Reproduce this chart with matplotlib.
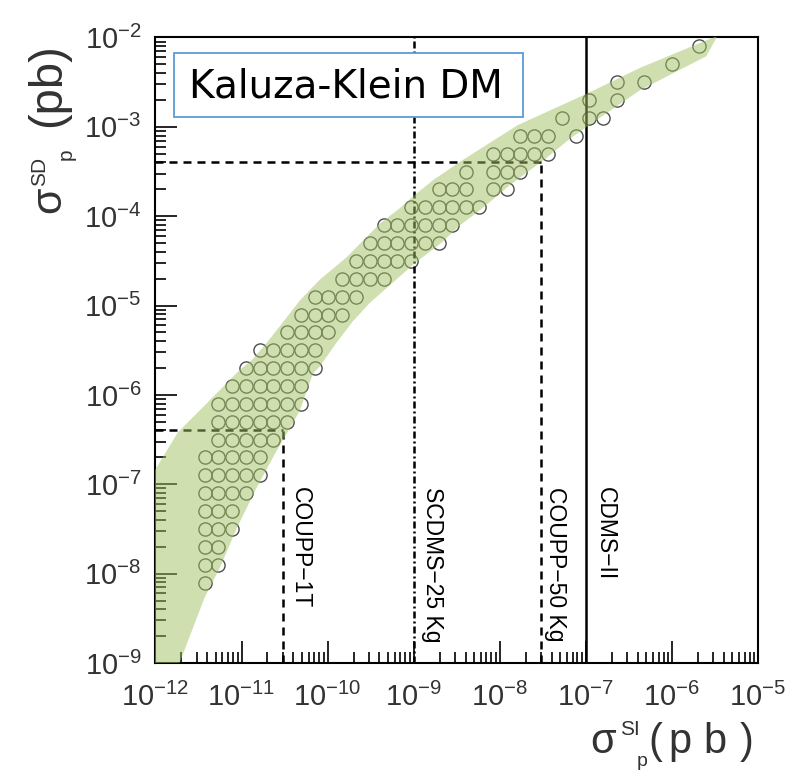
import numpy as np
import matplotlib.pyplot as plt
import matplotlib.transforms as mtransforms
from matplotlib.patches import Rectangle
from matplotlib.ticker import LogLocator, FuncFormatter, NullFormatter

plt.rcParams['font.family'] = ['Liberation Sans', 'DejaVu Sans']
plt.rcParams['mathtext.fontset'] = 'custom'
plt.rcParams['mathtext.rm'] = 'Liberation Sans'
plt.rcParams['mathtext.default'] = 'regular'

# KK scan points: each row is one log10(sigma_SD) value with its log10(sigma_SI) values
row_logsd = [-2.1, -2.3, -2.5, -2.7, -2.9, -3.1, -3.3, -3.5, -3.7, -3.9,
             -4.1, -4.3, -4.5, -4.7, -4.9, -5.1, -5.3, -5.5, -5.7, -5.9,
             -6.1, -6.3, -6.5, -6.7, -6.9, -7.1, -7.3, -7.5, -7.7, -7.9, -8.1]
row_logsi = [
    [-5.68],
    [-6.00],
    [-6.64, -6.32],
    [-6.96, -6.64],
    [-7.28, -6.96, -6.80],
    [-7.76, -7.60, -7.44, -7.12],
    [-8.08, -7.92, -7.76, -7.60, -7.44],
    [-8.39, -8.08, -7.92, -7.76],
    [-8.71, -8.55, -8.39, -8.08, -7.92],
    [-9.03, -8.87, -8.71, -8.55, -8.39, -8.24],
    [-9.35, -9.19, -9.03, -8.87, -8.71, -8.55],
    [-9.51, -9.35, -9.19, -9.03, -8.87, -8.71],
    [-9.67, -9.51, -9.35, -9.19, -9.03],
    [-9.83, -9.67, -9.51, -9.35],
    [-10.15, -9.99, -9.83, -9.67],
    [-10.31, -10.15, -9.99, -9.83],
    [-10.47, -10.31, -10.15, -9.99],
    [-10.79, -10.63, -10.47, -10.31, -10.15],
    [-10.95, -10.79, -10.63, -10.47, -10.31, -10.15],
    [-11.11, -10.95, -10.79, -10.63, -10.47, -10.31],
    [-11.27, -11.11, -10.95, -10.79, -10.63, -10.47, -10.31],
    [-11.27, -11.11, -10.95, -10.79, -10.63, -10.47],
    [-11.27, -11.11, -10.95, -10.79, -10.63],
    [-11.43, -11.27, -11.11, -10.95, -10.79],
    [-11.43, -11.27, -11.11, -10.95, -10.79],
    [-11.43, -11.27, -11.11, -10.95],
    [-11.43, -11.27, -11.11],
    [-11.43, -11.27, -11.11],
    [-11.43, -11.27],
    [-11.43, -11.27],
    [-11.43],
]

# allowed region, upper edge left->right then lower edge right->left (log10 values)
band_upper_si = [-12.1, -11.74, -11.02, -10.88, -10.71, -10.53, -10.32, -10.09,
                 -9.78, -9.39, -9.16, -9.01, -8.78, -8.46, -8.15, -7.79, -6.99,
                 -6.37, -5.47]
band_upper_sd = [-6.99, -6.42, -5.72, -5.61, -5.42, -5.20, -4.94, -4.71,
                 -4.46, -4.08, -3.91, -3.78, -3.60, -3.39, -3.20, -2.98, -2.63,
                 -2.34, -1.98]
band_lower_si = [-5.60, -6.37, -6.99, -7.18, -7.46, -7.88, -8.20, -8.46, -8.68,
                 -8.98, -9.51, -9.71, -9.90, -10.09, -10.17, -10.32, -10.40,
                 -10.59, -10.82, -11.05, -11.25, -11.43, -11.72, -11.76, -12.1]
band_lower_sd = [-2.21, -2.59, -3.00, -3.13, -3.35, -3.65, -3.91, -4.10, -4.30,
                 -4.52, -4.97, -5.18, -5.42, -5.68, -5.76, -6.17, -6.31,
                 -6.62, -7.03, -7.48, -7.93, -8.27, -9.00, -9.10, -9.10]

# experimental reach (pb)
coupp_1t = (3e-11, 4e-7)
coupp_50kg = (3e-8, 4e-4)
scdms_25kg = 1e-9
cdms_ii = 1e-7

fig = plt.figure(figsize=(8.08, 7.73), dpi=100)
ax = fig.add_axes([0.1924, 0.1423, 0.7457, 0.8092])
ax.set_xscale('log')
ax.set_yscale('log')
ax.set_xlim(1e-12, 1e-5)
ax.set_ylim(1e-9, 1e-2)

# scan points
px, py = [], []
for sd, si_list in zip(row_logsd, row_logsi):
    for si in si_list:
        px.append(10 ** si)
        py.append(10 ** sd)
ax.plot(px, py, 'o', mfc='none', mec='#4d4d4d', ms=9.5, mew=1.0, zorder=3)

# limit lines
dash = dict(color='k', lw=1.8, dashes=(3.2, 2.4), zorder=3)
ax.plot([coupp_1t[0], coupp_1t[0]], [1e-9, coupp_1t[1]], **dash)
ax.plot([1e-12, coupp_1t[0]], [coupp_1t[1], coupp_1t[1]], **dash)
ax.plot([coupp_50kg[0], coupp_50kg[0]], [1e-9, coupp_50kg[1]], **dash)
ax.plot([1e-12, coupp_50kg[0]], [coupp_50kg[1], coupp_50kg[1]], **dash)
ax.axvline(scdms_25kg, color='k', lw=1.8, dashes=(2.8, 1.2, 0.8, 1.2), zorder=3)
ax.axvline(cdms_ii, color='k', lw=1.8, zorder=3)

# allowed band, drawn over the points and lines
bx = 10 ** np.array(band_upper_si + band_lower_si)
by = 10 ** np.array(band_upper_sd + band_lower_sd)
ax.fill(bx, by, color=(161 / 255, 193 / 255, 97 / 255), alpha=0.5, lw=0, zorder=5)

# experiment names
trans = mtransforms.blended_transform_factory(ax.transData, ax.transAxes)
names = ['COUPP\u22121T', 'SCDMS\u221225 Kg', 'COUPP\u221250 Kg', 'CDMS\u2212II']
name_x = [coupp_1t[0], scdms_25kg, coupp_50kg[0], cdms_ii]
name_shift = [1.6, 1.66, 1.47, 1.67]
for name, xv, s in zip(names, name_x, name_shift):
    ax.text(xv * s, 0.281, name, transform=trans, rotation=-90, ha='center',
            va='top', fontsize=16.5, zorder=10)

# title box
ax.add_patch(Rectangle((0.0307, 0.8734), 0.5793, 0.1023, transform=ax.transAxes,
                       fc='white', ec='#5b9bd5', lw=1.3, zorder=8))
ax.text(0.316, 0.921, 'Kaluza-Klein DM', transform=ax.transAxes, ha='center',
        va='center', fontsize=28, family=['DejaVu Sans'], zorder=9)

# axes styling
for sp in ax.spines.values():
    sp.set_linewidth(1.5)
ax.xaxis.set_major_locator(LogLocator(base=10, numticks=20))
ax.yaxis.set_major_locator(LogLocator(base=10, numticks=20))
ax.xaxis.set_minor_locator(LogLocator(base=10, subs=np.arange(2, 10), numticks=100))
ax.yaxis.set_minor_locator(LogLocator(base=10, subs=np.arange(2, 10), numticks=100))
fmt = FuncFormatter(lambda v, pos: r'$\mathregular{10^{%d}}$' % round(np.log10(v)))
ax.xaxis.set_major_formatter(fmt)
ax.yaxis.set_major_formatter(fmt)
ax.xaxis.set_minor_formatter(NullFormatter())
ax.yaxis.set_minor_formatter(NullFormatter())
ax.tick_params(which='both', direction='in', top=False, right=False, width=1.2,
               labelsize=21, labelcolor='#333333')
ax.tick_params(which='major', length=16)
ax.tick_params(which='minor', length=8)
ax.tick_params(axis='x', which='major', pad=14)
ax.tick_params(axis='y', which='major', pad=10)


def fig_xy(x, y):
    return x / 808, 1 - y / 773


# x axis title, placed piece by piece
for txt, x, y, fs in [('\u03c3', 590, 753, 30), ('SI', 620, 735, 15), ('p', 637, 766, 14),
                      ('(', 648, 753, 30), ('p', 668, 753, 30), ('b', 703, 753, 30),
                      (')', 740, 753, 30)]:
    fig.text(*fig_xy(x, y), txt, ha='left', va='baseline', fontsize=fs, color='#333333')

# y axis title
for txt, x, y, fs in [('\u03c3', 60, 213, 31), ('SD', 45, 186, 15), ('p', 72, 160, 15),
                      ('(pb)', 60, 127, 34)]:
    fig.text(*fig_xy(x, y), txt, ha='left', va='baseline', fontsize=fs, rotation=90,
             rotation_mode='anchor', color='#333333')

fig.savefig('out.png', dpi=100)
